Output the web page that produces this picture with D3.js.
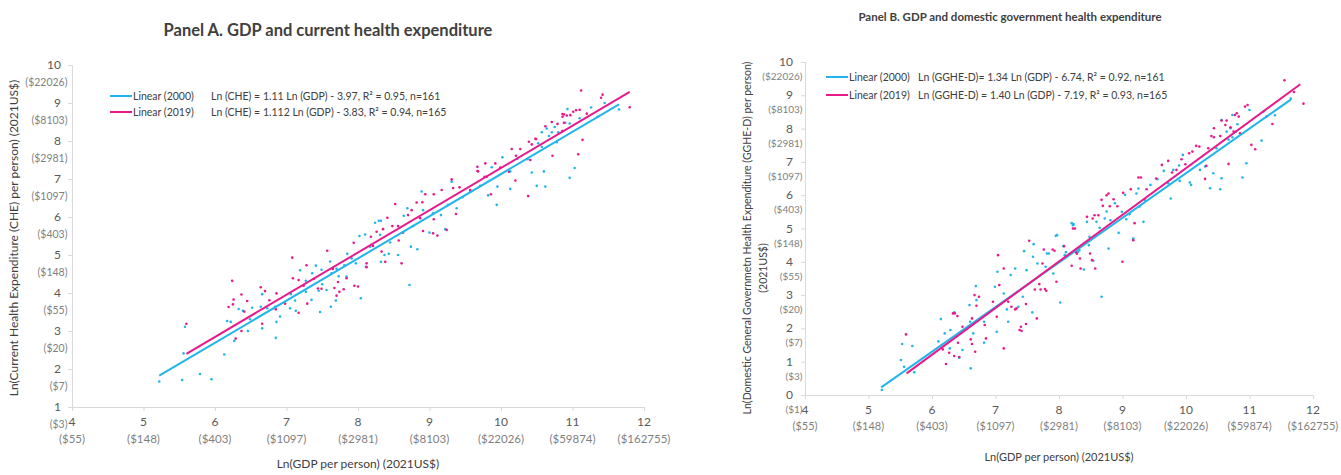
<!DOCTYPE html>
<html>
<head>
<meta charset="utf-8">
<script src="https://cdn.jsdelivr.net/npm/d3@7"></script>
<style>
  body { margin: 0; background: #fff; }
  svg { font-family: Lato, "Noto Sans", sans-serif; }
</style>
</head>
<body>
<svg id="canvas"></svg>
<script>
// ln(GDP per person), ln(expenditure per person)
let panelA2000 = [
  [5.22,1.67],[5.54,1.71],[5.79,1.87],[5.95,1.73],[5.56,2.41],[5.58,3.11],[6.13,2.38],[6.17,3.26],[6.22,3.24],[6.27,2.74],
  [6.33,3.58],[6.39,3.53],[6.46,3.0],[6.52,3.61],[6.49,3.31],[6.66,3.97],[6.64,3.64],[6.66,3.07],[6.73,3.60],[6.85,2.82],
  [6.86,3.24],[6.91,3.38],[6.84,3.64],[7.05,3.60],[7.13,3.53],[7.06,3.97],[7.12,3.80],[7.19,4.60],[7.27,4.32],[7.27,4.03],
  [7.35,3.82],[7.36,4.52],[7.41,4.72],[7.47,3.50],[7.49,4.61],[7.50,4.23],[7.45,4.06],[7.56,4.08],[7.61,4.83],[7.63,4.52],
  [7.62,3.64],[7.69,3.80],[7.70,4.64],[7.73,4.44],[7.81,4.73],[7.85,5.03],[7.84,4.43],[7.91,4.91],[7.97,4.78],[8.04,3.86],
  [8.02,5.50],[8.10,5.54],[8.11,4.69],[8.17,5.22],[8.24,5.85],[8.29,5.90],[8.32,5.90],[8.31,5.53],[8.32,4.82],[8.37,5.0],
  [8.43,5.03],[8.45,5.33],[8.56,5.0],[8.64,6.03],[8.69,6.23],[8.72,4.21],[8.74,5.22],[8.77,5.76],[8.83,5.15],[8.89,6.67],
  [8.91,6.18],[9.0,5.59],[9.05,6.10],[9.16,6.05],[9.22,5.68],[9.26,6.32],[9.31,6.93],[9.38,6.23],[9.46,6.52],[9.57,6.67],
  [9.71,6.82],[9.82,6.57],[9.94,6.32],[9.95,6.80],[9.87,7.31],[10.02,7.57],[10.13,6.74],[10.13,7.20],[10.23,7.53],[10.37,7.52],
  [10.43,7.17],[10.50,6.82],[10.52,7.94],[10.57,7.85],[10.57,8.23],[10.60,7.20],[10.62,6.80],[10.64,8.33],[10.67,8.13],[10.71,8.23],
  [10.75,8.37],[10.78,7.97],[10.80,8.23],[10.86,8.26],[10.90,8.48],[10.93,8.84],[10.96,8.46],[10.96,7.03],[11.03,7.29],[11.26,8.88],
  [11.35,8.64],[11.65,8.83],[11.45,9.0],[11.1,8.6]
];
let panelA2019 = [
  [5.60,3.19],[6.24,4.32],[6.26,3.83],[6.19,3.63],[6.25,3.70],[6.29,2.80],[6.37,3.96],[6.45,3.79],[6.37,3.0],[6.41,3.51],
  [6.64,4.15],[6.70,4.05],[6.76,3.81],[6.66,3.19],[6.85,3.57],[6.86,3.99],[6.98,3.72],[7.08,4.93],[7.09,4.39],[7.17,3.48],
  [7.17,4.34],[7.29,3.72],[7.28,4.73],[7.24,4.19],[7.38,4.37],[7.44,4.12],[7.49,4.11],[7.57,5.11],[7.65,4.63],[7.72,4.29],
  [7.70,3.93],[7.74,4.03],[7.80,4.10],[7.84,4.39],[7.67,4.13],[7.95,4.19],[8.00,4.17],[7.94,5.32],[8.12,4.78],[8.12,4.68],
  [8.18,5.48],[8.21,5.24],[8.26,5.61],[8.33,5.09],[8.38,4.82],[8.35,5.68],[8.41,5.98],[8.48,5.76],[8.52,6.34],[8.56,5.76],
  [8.57,5.38],[8.61,4.78],[8.63,5.59],[8.70,6.05],[8.75,6.18],[8.82,6.38],[8.87,5.97],[8.90,6.39],[8.91,5.63],[8.94,6.60],
  [9.05,5.57],[9.11,5.51],[9.06,5.94],[9.06,6.60],[9.17,6.71],[9.24,5.66],[9.31,6.99],[9.33,6.76],[9.37,6.08],[9.42,6.78],
  [9.57,6.71],[9.67,7.32],[9.67,7.21],[9.78,7.41],[9.92,7.41],[9.80,7.06],[9.68,7.20],[9.77,7.06],[9.86,6.60],[9.99,7.30],
  [10.15,7.79],[10.11,7.19],[10.20,6.96],[10.21,7.61],[10.27,7.79],[10.38,6.55],[10.39,7.98],[10.41,7.50],[10.43,7.91],[10.48,8.06],
  [10.49,8.05],[10.62,8.39],[10.71,8.50],[10.72,7.61],[10.79,8.45],[10.86,8.64],[10.86,8.71],[10.88,8.70],[10.92,8.67],[10.97,8.68],
  [11.01,8.77],[11.05,8.81],[11.10,8.82],[10.86,8.26],[10.88,8.48],[11.08,7.65],[11.14,8.03],[11.12,9.33],[11.20,8.72],[11.40,9.14],
  [11.42,9.22],[11.80,8.89]
];
let panelB2000 = [
  [5.21,0.15],[5.53,1.53],[5.51,1.05],[5.56,0.85],[5.69,1.47],[5.72,0.68],[6.10,1.61],[6.14,2.28],[6.20,1.85],[6.28,1.40],
  [6.29,1.95],[6.35,2.48],[6.43,1.12],[6.48,1.35],[6.57,2.05],[6.59,2.70],[6.61,0.80],[6.60,2.20],[6.65,1.85],[6.69,3.27],
  [6.70,2.85],[6.82,1.57],[6.82,2.20],[7.02,1.90],[6.99,3.25],[7.03,3.70],[7.13,3.05],[7.18,2.57],[7.20,2.20],[7.24,3.60],
  [7.31,3.80],[7.36,2.65],[7.43,2.95],[7.45,4.32],[7.49,3.75],[7.58,2.48],[7.60,4.53],[7.59,4.15],[7.66,3.95],[7.79,3.85],
  [7.81,4.25],[7.84,4.25],[7.91,3.65],[7.95,4.78],[7.97,4.80],[8.02,2.78],[8.07,4.47],[8.09,4.20],[8.11,4.29],[8.20,5.16],
  [8.22,5.10],[8.23,5.13],[8.30,4.30],[8.32,4.35],[8.39,3.77],[8.44,5.20],[8.47,4.50],[8.48,4.75],[8.54,4.03],[8.59,5.20],
  [8.64,5.02],[8.67,2.95],[8.72,5.30],[8.75,5.51],[8.78,4.40],[8.81,5.25],[8.88,5.76],[8.94,4.87],[8.99,5.50],[9.04,6.01],
  [9.06,5.28],[9.11,5.43],[9.17,4.70],[9.22,6.05],[9.25,6.20],[9.27,5.66],[9.33,5.20],[9.35,5.86],[9.44,6.31],[9.55,6.48],
  [9.65,6.73],[9.72,6.36],[9.76,5.90],[9.80,6.76],[9.89,6.89],[9.90,6.43],[9.95,7.21],[10.06,6.38],[10.08,6.31],[10.22,6.76],
  [10.30,6.86],[10.38,6.21],[10.43,6.66],[10.48,7.41],[10.54,6.18],[10.56,6.51],[10.64,7.91],[10.67,7.67],[10.70,8.01],[10.73,7.74],
  [10.79,7.91],[10.81,8.13],[10.56,8.26],[10.73,8.41],[10.89,6.53],[10.95,6.96],[11.00,8.56],[11.19,7.64],[11.22,8.51],[11.40,8.40],
  [11.65,8.90]
];
let panelB2019 = [
  [5.59,1.82],[6.22,0.93],[6.17,1.37],[6.27,1.27],[6.33,2.45],[6.36,2.45],[6.35,1.17],[6.40,2.37],[6.41,1.57],[6.43,1.14],
  [6.48,2.05],[6.61,1.67],[6.63,2.30],[6.63,1.53],[6.68,1.30],[6.67,3.00],[6.74,2.95],[6.70,2.68],[6.83,2.10],[6.85,1.70],
  [6.96,2.80],[7.02,2.35],[7.04,4.20],[7.06,3.30],[7.13,3.80],[7.13,1.40],[7.20,2.80],[7.25,2.65],[7.31,2.57],[7.33,2.60],
  [7.38,1.95],[7.40,2.05],[7.41,1.92],[7.48,2.13],[7.48,2.73],[7.53,4.63],[7.62,3.17],[7.65,2.30],[7.69,3.33],[7.71,3.17],
  [7.74,3.95],[7.76,4.37],[7.78,3.18],[7.80,3.13],[7.90,4.37],[7.93,4.33],[7.96,3.40],[8.08,4.47],[8.20,3.88],[8.22,5.00],
  [8.25,5.00],[8.27,4.29],[8.28,4.24],[8.33,4.10],[8.34,3.80],[8.44,5.35],[8.49,4.25],[8.52,4.05],[8.57,3.80],[8.53,5.30],
  [8.56,5.40],[8.62,5.40],[8.67,5.86],[8.69,5.68],[8.75,6.00],[8.80,5.67],[8.78,6.05],[8.86,5.88],[8.92,5.67],[9.00,4.00],
  [9.01,6.07],[9.13,6.18],[9.17,4.65],[9.19,5.16],[9.25,6.53],[9.29,6.53],[9.38,6.18],[9.53,6.50],[9.62,6.91],[9.72,7.03],
  [9.78,6.68],[9.85,6.76],[9.93,7.08],[9.99,6.93],[10.05,7.26],[10.10,7.31],[10.16,7.48],[10.21,7.46],[10.30,6.49],[10.32,6.88],
  [10.35,7.41],[10.40,7.78],[10.44,8.01],[10.44,7.74],[10.54,7.78],[10.56,8.24],[10.62,8.11],[10.64,8.24],[10.67,6.94],[10.70,8.04],
  [10.75,7.91],[10.77,8.41],[10.80,8.46],[10.83,8.36],[10.85,7.86],[10.93,8.66],[10.97,8.71],[11.03,7.51],[11.09,7.38],[11.27,8.36],
  [11.36,8.14],[11.55,9.45],[11.70,9.10],[11.85,8.75]
];

// [slope, intercept, first x, last x]
let fitA2000 = [1.11, -3.97, 5.22, 11.65];
let fitA2019 = [1.112, -3.83, 5.6, 11.8];
let fitB2000 = [1.34, -6.74, 5.2, 11.65];
let fitB2019 = [1.40, -7.19, 5.6, 11.8];

let xTicks = [4, 5, 6, 7, 8, 9, 10, 11, 12];
let yTicksA = [1, 2, 3, 4, 5, 6, 7, 8, 9, 10];
let yTicksB = [0, 1, 2, 3, 4, 5, 6, 7, 8, 9, 10];
// dollar value for each ln tick, index = tick
let dollarLabels = ['($1)', '($3)', '($7)', '($20)', '($55)', '($148)', '($403)', '($1097)', '($2981)', '($8103)', '($22026)', '($59874)', '($162755)'];

let legendNames = ['Linear (2000)', 'Linear (2019)'];
let eqA = ['Ln (CHE) = 1.11 Ln (GDP) - 3.97, R\u00b2 = 0.95, n=161', 'Ln (CHE) = 1.112 Ln (GDP) - 3.83, R\u00b2 = 0.94, n=165'];
let eqB = ['Ln (GGHE-D)= 1.34 Ln (GDP) - 6.74, R\u00b2 = 0.92, n=161', 'Ln (GGHE-D) = 1.40 Ln (GDP) - 7.19, R\u00b2 = 0.93, n=165'];

let blue = '#22b5ec';
let pink = '#e8198b';

let width = 1341;
let height = 475;

let svg = d3.select('#canvas')
  .attr('width', width)
  .attr('height', height)

let drawPanel = (p) => {
  let xScale = d3.scaleLinear().domain([4, 12]).range([p.left, p.right]);
  let yScale = d3.scaleLinear().domain(p.yDomain).range([p.bottom, p.top]);

  let g = svg.append('g')

  // axes
  let xAxis = d3.axisBottom(xScale).tickValues(xTicks).tickSize(4).tickFormat('')
  let yAxis = d3.axisLeft(yScale).tickValues(p.yTicks).tickSize(4).tickFormat('')

  g.append('g').attr('transform', `translate(0, ${p.bottom})`).call(xAxis)
  g.append('g').attr('transform', `translate(${p.left}, 0)`).call(yAxis)
  g.selectAll('.domain').attr('stroke', '#d9d9d9')
  g.selectAll('.tick line').attr('stroke', '#d9d9d9')

  // tick labels: ln value and dollar value underneath
  g.selectAll('.xnum').data(xTicks).enter().append('text')
    .attr('x', d => xScale(d)).attr('y', p.bottom + p.xNumDy)
    .attr('text-anchor', 'middle').attr('font-size', p.tickSize).attr('fill', '#595959')
    .text(d => d)
  g.selectAll('.xdol').data(xTicks).enter().append('text')
    .attr('x', d => xScale(d)).attr('y', p.bottom + p.xDolDy)
    .attr('text-anchor', 'middle').attr('font-size', p.xDolSize).attr('fill', '#7f7f7f')
    .text(d => dollarLabels[d])
  g.selectAll('.ynum').data(p.yTicks).enter().append('text')
    .attr('x', p.left - p.yNumDx).attr('y', d => yScale(d) + 4)
    .attr('text-anchor', 'end').attr('font-size', p.tickSize).attr('fill', '#595959')
    .text(d => d)
  g.selectAll('.ydol').data(p.yTicks).enter().append('text')
    .attr('x', p.left - p.yDolDx).attr('y', d => yScale(d) + 4 + p.yDolDy)
    .attr('text-anchor', 'end').attr('font-size', p.yDolSize).attr('fill', '#7f7f7f')
    .text(d => dollarLabels[d])

  // points
  let series = [[p.d2000, blue], [p.d2019, pink]]
  series.forEach(([data, color]) => {
    g.append('g').selectAll('circle').data(data).enter().append('circle')
      .attr('cx', d => xScale(d[0]))
      .attr('cy', d => yScale(d[1]))
      .attr('r', 1.3)
      .attr('fill', color)
  })

  // trend lines
  let fits = [[p.f2000, blue], [p.f2019, pink]]
  fits.forEach(([f, color]) => {
    let ends = [f[2], f[3]].map(x => [x, f[0] * x + f[1]])
    g.append('path')
      .attr('d', d3.line().x(d => xScale(d[0])).y(d => yScale(d[1]))(ends))
      .attr('stroke', color).attr('stroke-width', 2).attr('fill', 'none')
  })

  // legend
  legendNames.forEach((name, i) => {
    let y = p.legY[i]
    g.append('line')
      .attr('x1', p.legX).attr('x2', p.legX + 22).attr('y1', y).attr('y2', y)
      .attr('stroke', i === 0 ? blue : pink).attr('stroke-width', 2)
    g.append('text')
      .attr('x', p.legX + 23).attr('y', y + 4)
      .attr('font-size', p.legSize).attr('fill', '#404040')
      .text(name)
    g.append('text')
      .attr('x', p.eqX).attr('y', y + 4)
      .attr('font-size', p.legSize).attr('fill', '#404040')
      .text(p.eq[i])
  })

  // titles
  g.append('text')
    .attr('x', p.titleX).attr('y', p.titleY)
    .attr('text-anchor', 'middle').attr('font-weight', 'bold')
    .attr('font-size', p.titleSize).attr('fill', '#404040')
    .text(p.title)
  g.append('text')
    .attr('x', (p.left + p.right) / 2).attr('y', p.xTitleY)
    .attr('text-anchor', 'middle').attr('font-size', p.axTitleSize).attr('fill', '#404040')
    .text('Ln(GDP per person) (2021US$)')
  p.yTitle.forEach((line, i) => {
    g.append('text')
      .attr('transform', `translate(${p.yTitleX[i]}, ${p.yTitleY[i]}) rotate(-90)`)
      .attr('text-anchor', 'middle').attr('font-size', p.yTitleSize).attr('fill', '#404040')
      .text(line)
  })
}

drawPanel({
  left: 72, right: 644, top: 65, bottom: 407, yDomain: [1, 10], yTicks: yTicksA,
  d2000: panelA2000, d2019: panelA2019, f2000: fitA2000, f2019: fitA2019,
  xNumDy: 19, xDolDy: 36, yNumDx: 11, yDolDx: 4.5, yDolDy: 17, tickSize: 12, xDolSize: 11.5, yDolSize: 10.5,
  legX: 110, legY: [96, 112], eqX: 211, eq: eqA, legSize: 10.5,
  title: 'Panel A. GDP and current health expenditure', titleX: 328, titleY: 36, titleSize: 16.5,
  xTitleY: 468, axTitleSize: 12,
  yTitle: ['Ln(Current Health Expenditure (CHE) per person) (2021US$)'], yTitleX: [18], yTitleY: [238], yTitleSize: 12
})

drawPanel({
  left: 805, right: 1313, top: 62, bottom: 395, yDomain: [0, 10], yTicks: yTicksB,
  d2000: panelB2000, d2019: panelB2019, f2000: fitB2000, f2019: fitB2019,
  xNumDy: 19, xDolDy: 35, yNumDx: 12, yDolDx: 2.5, yDolDy: 14, tickSize: 12, xDolSize: 11, yDolSize: 10,
  legX: 826, legY: [77, 95], eqX: 918, eq: eqB, legSize: 10.5,
  title: 'Panel B. GDP and domestic government health expenditure', titleX: 1010, titleY: 21, titleSize: 11.5,
  xTitleY: 461, axTitleSize: 11,
  yTitle: ['Ln(Domestic General Governmetn Health Expenditure (GGHE-D) per person)', '(2021US$)'],
  yTitleX: [751, 767], yTitleY: [238, 268], yTitleSize: 10.5
})
</script>
</body>
</html>
